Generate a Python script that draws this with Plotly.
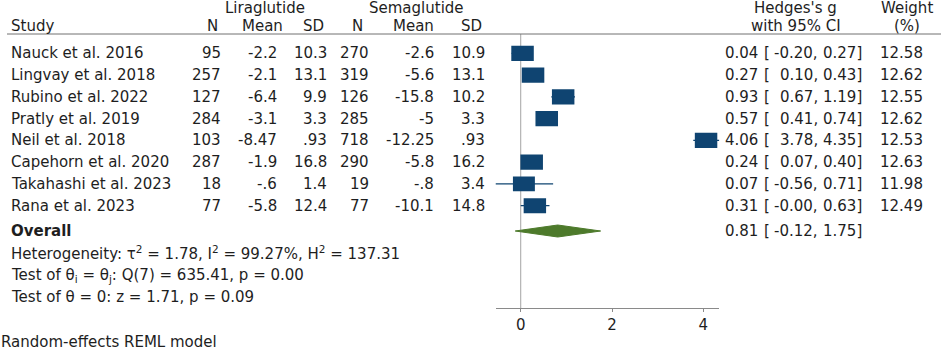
import plotly.graph_objects as go

# ---------------- data ----------------
studies = ["Nauck et al. 2016", "Lingvay et al. 2018", "Rubino et al. 2022", "Pratly et al. 2019",
           "Neil et al. 2018", "Capehorn et al. 2020", "Takahashi et al. 2023", "Rana et al. 2023"]
lira_n = ["95", "257", "127", "284", "103", "287", "18", "77"]
lira_mean = ["-2.2", "-2.1", "-6.4", "-3.1", "-8.47", "-1.9", "-.6", "-5.8"]
lira_sd = ["10.3", "13.1", "9.9", "3.3", ".93", "16.8", "1.4", "12.4"]
sema_n = ["270", "319", "126", "285", "718", "290", "19", "77"]
sema_mean = ["-2.6", "-5.6", "-15.8", "-5", "-12.25", "-5.8", "-.8", "-10.1"]
sema_sd = ["10.9", "13.1", "10.2", "3.3", ".93", "16.2", "3.4", "14.8"]
g = [0.04, 0.27, 0.93, 0.57, 4.06, 0.24, 0.07, 0.31]
ci_lo = [-0.20, 0.10, 0.67, 0.41, 3.78, 0.07, -0.56, -0.0]
ci_hi = [0.27, 0.43, 1.19, 0.74, 4.35, 0.40, 0.71, 0.63]
weight = [12.58, 12.62, 12.55, 12.62, 12.53, 12.63, 11.98, 12.49]
overall_g, overall_lo, overall_hi = 0.81, -0.12, 1.75
x_ticks = [0, 2, 4]

het_text = "Heterogeneity: τ<sup>2</sup> = 1.78, I<sup>2</sup> = 99.27%, H<sup>2</sup> = 137.31"
q_text = "Test of θ<sub>i</sub> = θ<sub>j</sub>: Q(7) = 635.41, p = 0.00"
z_text = "Test of θ = 0: z = 1.71, p = 0.09"
model_text = "Random-effects REML model"

# ---------------- layout geometry ----------------
W, H = 941, 350
ROW0, ROWSTEP = 53.3, 21.77
def py(p):  # pixel row (from top) -> y data
    return (p - ROW0) / ROWSTEP
def px(p):  # pixel column -> paper x
    return p / W

AXIS_PIX = 308
NAVY = "#0f4471"
GREEN = "#4d7a2b"
TXT = "#1e1e1e"
FONT = "DejaVu Sans"
FS = 15

fig = go.Figure()

# CI lines
xs, ys = [], []
for i in range(len(studies)):
    xs += [ci_lo[i], ci_hi[i], None]
    ys += [i, i, None]
fig.add_trace(go.Scatter(x=xs, y=ys, mode="lines", line=dict(color=NAVY, width=1.2),
                         hoverinfo="skip", showlegend=False))

# weight boxes
KW, KH = 0.0695, 0.0983
shapes = []
for i in range(len(studies)):
    hw = KW * weight[i] ** 0.5
    hh = KH * weight[i] ** 0.5
    shapes.append(dict(type="rect", xref="x", yref="y", x0=g[i] - hw, x1=g[i] + hw,
                       y0=i - hh, y1=i + hh, fillcolor=NAVY, line=dict(width=0), layer="above"))

# overall diamond
yo = py(231)
dh = 6 / ROWSTEP
fig.add_trace(go.Scatter(x=[overall_lo, overall_g, overall_hi, overall_g, overall_lo],
                         y=[yo, yo - dh, yo, yo + dh, yo], mode="lines", fill="toself",
                         fillcolor=GREEN, line=dict(color=GREEN, width=1),
                         hoverinfo="skip", showlegend=False))

# zero line and header rule
shapes.append(dict(type="line", xref="x", yref="y", x0=0, x1=0, y0=py(34), y1=py(AXIS_PIX),
                   line=dict(color="#a3a3a3", width=1), layer="below"))
shapes.append(dict(type="line", xref="paper", yref="y", x0=px(7), x1=1, y0=py(34), y1=py(34),
                   line=dict(color="#707070", width=1)))

ann = []
def T(xp, y, text, anchor="right", bold=False, size=FS):
    ann.append(dict(x=px(xp), y=y, xref="paper", yref="y", text=text, showarrow=False,
                    xanchor=anchor, yanchor="middle", borderpad=0,
                    font=dict(family=FONT, size=size, color=TXT,
                              weight="bold" if bold else "normal")))

# headers
H1, H2 = py(8), py(26)
T(265, H1, "Liraglutide", "center")
T(416.7, H1, "Semaglutide", "center")
T(10, H2, "Study", "left")
T(212.5, H2, "N", "center")
T(262.5, H2, "Mean", "center")
T(313.3, H2, "SD", "center")
T(357.5, H2, "N", "center")
T(413.3, H2, "Mean", "center")
T(471, H2, "SD", "center")
T(795.5, H1, "Hedges's g", "center")
T(795.5, H2, "with 95% CI", "center")
T(906.5, H1, "Weight", "center")
T(906.5, H2, "(%)", "center")

for i in range(len(studies)):
    T(10, i, studies[i], "left")
    T(221.7, i, lira_n[i])
    T(278.3, i, lira_mean[i])
    T(328.3, i, lira_sd[i])
    T(370, i, sema_n[i])
    T(435, i, sema_mean[i])
    T(486, i, sema_sd[i])
    T(759, i, f"{g[i]:.2f}")
    T(763, i, "[", "left")
    T(819, i, f"{ci_lo[i]:.2f},")
    T(863, i, f"{ci_hi[i]:.2f}]")
    T(924, i, f"{weight[i]:.2f}")

T(10, yo, "Overall", "left", bold=True)
T(759, yo, f"{overall_g:.2f}")
T(763, yo, "[", "left")
T(819, yo, f"{overall_lo:.2f},")
T(863, yo, f"{overall_hi:.2f}]")

T(10, py(253.3), het_text, "left")
T(10, py(275), q_text, "left")
T(10, py(297.3), z_text, "left")
T(0, py(341.7), model_text, "left")

fig.update_layout(
    width=W, height=H, margin=dict(l=0, r=0, t=0, b=0),
    plot_bgcolor="white", paper_bgcolor="white",
    shapes=shapes, annotations=ann, showlegend=False,
    xaxis=dict(domain=[px(495.7), px(719.3)], range=[-0.548, 4.35], anchor="free",
               position=1 - AXIS_PIX / H, showline=True, linecolor="#8a8a8a", linewidth=1,
               ticks="outside", ticklen=3, tickcolor="#8a8a8a", tickvals=x_ticks,
               showgrid=False, zeroline=False,
               tickfont=dict(family=FONT, size=FS, color=TXT)),
    yaxis=dict(domain=[0, 1], range=[py(H), py(0)], visible=False, showgrid=False,
               zeroline=False),
)

fig.write_html("out.html", config={"displayModeBar": False},
               post_script="document.body.style.margin='0px';")
